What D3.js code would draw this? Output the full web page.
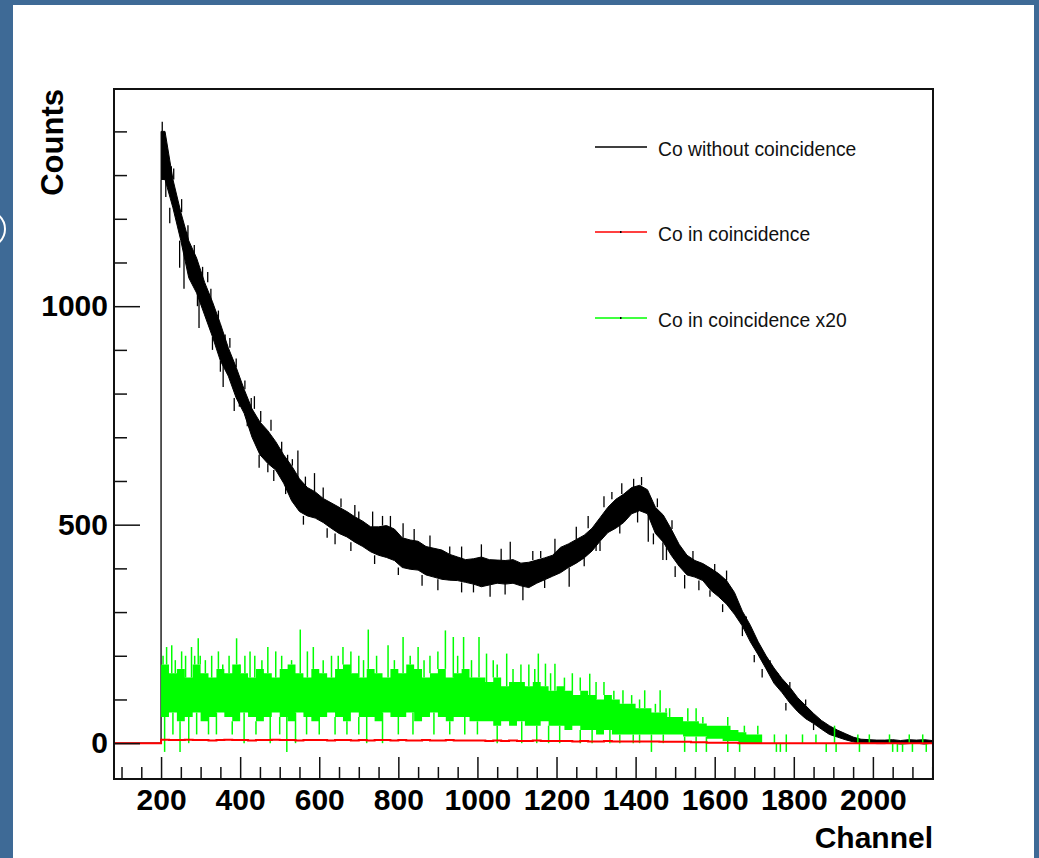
<!DOCTYPE html>
<html>
<head>
<meta charset="utf-8">
<script src="https://cdn.jsdelivr.net/npm/d3@7"></script>
<style>
  html, body { margin: 0; padding: 0; background: #3e6a96; }
  svg { display: block; }
  text { font-family: "Liberation Sans", Arial, Helvetica, sans-serif; }
</style>
</head>
<body>
<div id="drawing_region"></div>
<script>
// bin start channel (20 channels per bin)
const binStart = [
  200, 220, 240, 260, 280, 300, 320, 340, 360, 380,
  400, 420, 440, 460, 480, 500, 520, 540, 560, 580,
  600, 620, 640, 660, 680, 700, 720, 740, 760, 780,
  800, 820, 840, 860, 880, 900, 920, 940, 960, 980,
  1000, 1020, 1040, 1060, 1080, 1100, 1120, 1140, 1160, 1180,
  1200, 1220, 1240, 1260, 1280, 1300, 1320, 1340, 1360, 1380,
  1400, 1420, 1440, 1460, 1480, 1500, 1520, 1540, 1560, 1580,
  1600, 1620, 1640, 1660, 1680, 1700, 1720, 1740, 1760, 1780,
  1800, 1820, 1840, 1860, 1880, 1900, 1920, 1940, 1960, 1980,
  2000, 2020, 2040, 2060, 2080, 2100, 2120, 2140
];
const binWidth = 20;

// "Co without coincidence": upper / lower edge of the noisy trace in each bin
const blackHi = [
  1400, 1290, 1215, 1150, 1110, 1055, 1010, 960, 905, 860,
  810, 765, 735, 715, 690, 660, 635, 605, 585, 575,
  560, 550, 540, 530, 518, 508, 495, 495, 498, 490,
  470, 465, 462, 450, 446, 442, 432, 426, 420, 422,
  426, 420, 419, 418, 420, 412, 414, 419, 424, 430,
  448, 456, 466, 476, 492, 516, 540, 558, 570, 585,
  590, 580, 540, 522, 490, 455, 430, 418, 411, 400,
  388, 372, 345, 302, 270, 232, 200, 172, 148, 128,
  104, 86, 68, 52, 40, 30, 22, 14, 9, 8,
  7, 7, 8, 6, 8, 7, 8, 6
];
const blackLo = [
  1290, 1225, 1150, 1065, 1030, 980, 930, 875, 840, 790,
  755, 700, 660, 640, 625, 595, 555, 530, 520, 515,
  505, 492, 480, 472, 460, 450, 438, 430, 425, 418,
  402, 398, 396, 385, 380, 375, 373, 372, 368, 364,
  358, 362, 366, 364, 366, 360, 356, 366, 374, 382,
  390, 402, 412, 424, 440, 462, 482, 492, 505, 525,
  532, 525, 480, 460, 430, 405, 385, 380, 372, 350,
  335, 318, 295, 268, 232, 202, 170, 137, 116, 92,
  72, 56, 45, 32, 20, 14, 8, 3, 0, 0,
  -1, -1, 0, -2, -1, 0, -2, 0
];
// single channels sticking out of the band: [channel, counts]
const blackSpikes = [
  [203, 1422], [212, 1250], [222, 1190], [226, 1320], [232, 1315], [247, 1088],
  [252, 1245], [258, 1040], [265, 1170], [268, 1185], [284, 1140], [292, 1000],
  [296, 950], [305, 1090], [318, 1078], [326, 1040], [330, 900], [345, 990],
  [350, 850], [357, 815], [362, 935], [374, 927], [385, 760], [390, 880],
  [398, 770], [412, 830], [418, 725], [428, 790], [436, 794], [448, 630],
  [452, 760], [470, 620], [478, 740], [485, 600], [505, 690], [515, 570],
  [520, 660], [532, 650], [546, 670], [560, 500], [565, 610], [588, 618],
  [610, 585], [620, 470], [640, 455], [655, 560], [680, 440], [690, 545],
  [700, 530], [735, 530], [740, 410], [760, 520], [780, 520], [800, 385],
  [812, 503], [840, 490], [860, 360], [880, 475], [900, 350], [930, 450],
  [960, 450], [960, 345], [990, 345], [1010, 455], [1032, 335], [1060, 445],
  [1070, 340], [1083, 461], [1115, 327], [1140, 440], [1160, 440], [1170, 355],
  [1196, 468], [1232, 358], [1250, 495], [1270, 405], [1280, 520], [1300, 440],
  [1310, 440], [1320, 565], [1340, 575], [1360, 480], [1365, 595], [1395, 605],
  [1405, 505], [1415, 609], [1432, 461], [1445, 455], [1455, 560], [1469, 419],
  [1478, 419], [1492, 510], [1500, 380], [1524, 354], [1545, 440], [1560, 350],
  [1588, 335], [1600, 410], [1620, 300], [1630, 395], [1670, 245], [1680, 290],
  [1700, 185], [1720, 150], [1740, 190], [1760, 160], [1780, 75], [1790, 140],
  [1830, 100], [1850, 30]
];

// "Co in coincidence"
const redVal = [
  8, 7, 7, 8, 7, 7, 6, 7, 8, 7,
  7, 6, 7, 7, 8, 7, 7, 6, 7, 7,
  7, 6, 7, 7, 6, 7, 6, 7, 7, 6,
  7, 6, 6, 7, 6, 6, 7, 6, 6, 6,
  6, 5, 6, 5, 6, 5, 5, 6, 5, 5,
  5, 5, 4, 5, 4, 4, 5, 4, 4, 4,
  4, 4, 4, 3, 3, 3, 3, 2, 2, 1,
  1, 1, 1, 0, 0, 0, 0, 0, 0, 0,
  0, 0, 0, 0, 0, 0, 0, 0, 0, 0,
  0, 0, 0, 0, 0, 0, 0, 0
];

// "Co in coincidence x20": dense band per bin plus single spikes
const greenHi = [
  180, 160, 170, 150, 180, 160, 150, 170, 160, 180,
  160, 150, 170, 160, 150, 170, 180, 160, 150, 170,
  160, 150, 170, 180, 160, 150, 170, 160, 150, 170,
  160, 180, 170, 150, 160, 170, 150, 160, 170, 150,
  150, 140, 150, 130, 140, 140, 130, 140, 130, 120,
  130, 120, 110, 120, 110, 100, 110, 100, 90, 90,
  80, 80, 70, 70, 60, 60, 50, 50, 45, 40,
  40, 40, 30, 25, 20, 20, 0, 0, 0, 0,
  0, 0, 0, 0, 0, 0, 0, 0, 0, 0,
  0, 0, 0, 0, 0, 0, 0, 0
];
const greenLo = [
  60, 70, 50, 60, 70, 50, 60, 70, 60, 50,
  70, 60, 50, 60, 70, 60, 50, 70, 60, 50,
  60, 70, 60, 50, 70, 60, 60, 50, 70, 60,
  60, 70, 50, 60, 70, 60, 50, 60, 60, 50,
  50, 50, 40, 50, 40, 50, 40, 40, 50, 40,
  40, 30, 40, 30, 30, 20, 30, 20, 20, 20,
  20, 20, 20, 20, 20, 20, 15, 15, 15, 10,
  10, 5, 5, 0, 0, 0, 0, 0, 0, 0,
  0, 0, 0, 0, 0, 0, 0, 0, 0, 0,
  0, 0, 0, 0, 0, 0, 0, 0
];
const greenSpikes = [
  [205, 200], [214, 220], [227, 224], [236, 190], [252, 210], [262, 200],
  [277, 220], [285, 200], [294, 240], [299, 200], [312, 190], [328, 200],
  [345, 210], [356, 180], [372, 200], [391, 240], [400, 180], [412, 200],
  [425, 210], [437, 200], [455, 190], [470, 220], [490, 210], [505, 200],
  [530, 190], [552, 260], [570, 210], [585, 220], [610, 190], [631, 200],
  [648, 200], [660, 220], [680, 210], [700, 200], [712, 190], [724, 260],
  [745, 200], [774, 224], [790, 190], [812, 243], [830, 200], [850, 220],
  [865, 190], [880, 200], [900, 210], [919, 258], [939, 243], [950, 200],
  [965, 243], [985, 190], [1004, 243], [1023, 205], [1040, 190], [1050, 180],
  [1074, 205], [1090, 170], [1110, 180], [1130, 180], [1145, 170], [1154, 205],
  [1172, 182], [1185, 160], [1196, 182], [1220, 150], [1240, 160], [1260, 150],
  [1284, 159], [1300, 140], [1320, 140], [1345, 120], [1368, 121], [1390, 110],
  [1410, 100], [1423, 121], [1450, 90], [1462, 121], [1477, 80], [1486, 80],
  [1532, 80], [1553, 80], [1570, 60], [1633, 60], [1675, 40], [1709, 40],
  [1751, 20], [1781, 20], [1822, 20], [1856, 20], [1903, 40], [1962, 20],
  [1991, 20], [2042, 20], [2092, 20], [2126, 20],
  [209, -20], [230, 20], [248, -20], [270, 0], [290, 20], [320, 20],
  [340, 20], [380, 20], [410, 0], [440, 20], [476, 0], [500, 20],
  [518, -20], [540, 0], [568, 20], [600, 20], [640, 20], [670, 20],
  [700, 20], [720, 0], [760, 0], [800, 20], [837, 20], [890, 20],
  [930, 20], [968, 20], [1000, 20], [1050, 0], [1112, 0], [1150, 0],
  [1180, 0], [1208, 0], [1260, 0], [1290, 0], [1335, 0], [1360, 0],
  [1394, 0], [1410, 0], [1440, -20], [1470, 0], [1524, -20], [1553, -20],
  [1579, -20], [1633, -20], [1663, -20], [1756, -20], [1766, -20], [1781, -20],
  [1882, -20], [1907, -20], [1966, -20], [2050, -20], [2062, -20], [2075, -20],
  [2100, -20], [2135, -20]
];

const xMajorTicks = [200, 400, 600, 800, 1000, 1200, 1400, 1600, 1800, 2000];
const xMinorTicks = [
  100, 150, 250, 300, 350, 450, 500, 550, 650, 700, 750, 850, 900, 950,
  1050, 1100, 1150, 1250, 1300, 1350, 1450, 1500, 1550, 1650, 1700, 1750,
  1850, 1900, 1950, 2050, 2100, 2150
];
const yMajorTicks = [0, 500, 1000];
const yMinorTicks = [100, 200, 300, 400, 600, 700, 800, 900, 1100, 1200, 1300, 1400];

const legendLabels = ["Co without coincidence", "Co in coincidence", "Co in coincidence x20"];
const legendColors = ["#000000", "#ff0000", "#00ff00"];

class SpectrumChart {
    constructor(selector) {
        this.width = 1039;
        this.height = 858;
        this.frame = { left: 114, top: 89, right: 933, bottom: 779 };

        this.svg = d3.select(selector).append("svg")
            .attr("width", this.width)
            .attr("height", this.height);

        this.xscale = d3.scaleLinear().domain([81, 2152]).range([this.frame.left, this.frame.right]);
        this.yscale = d3.scaleLinear().domain([-82, 1497]).range([this.frame.bottom, this.frame.top]);

        this.bins = binStart.map((c, i) => ({
            ch: c, hi: blackHi[i], lo: blackLo[i], red: redVal[i], ghi: greenHi[i], glo: greenLo[i]
        }));
        // black band outline goes through bin centres, pinned at both ends
        const first = this.bins[0], last = this.bins[this.bins.length - 1];
        this.band = [Object.assign({}, first, { x: first.ch })]
            .concat(this.bins.map(d => Object.assign({}, d, { x: d.ch + binWidth / 2 })))
            .concat([Object.assign({}, last, { x: last.ch + binWidth })]);
        // histogram steps need a closing edge
        this.steps = this.bins.map(d => Object.assign({}, d, { x: d.ch }))
            .concat([Object.assign({}, last, { x: last.ch + binWidth })]);
    }

    drawPage() {
        this.svg.append("rect").attr("width", this.width).attr("height", this.height).attr("fill", "#3e6a96");
        this.svg.append("rect")
            .attr("x", 13).attr("y", 5)
            .attr("width", 1021).attr("height", this.height)
            .attr("fill", "#ffffff");
        this.svg.append("circle")
            .attr("cx", -13).attr("cy", 229).attr("r", 18)
            .attr("fill", "none").attr("stroke", "#ffffff").attr("stroke-width", 2);
    }

    drawData() {
        const xs = this.xscale, ys = this.yscale, f = this.frame;

        this.svg.append("clipPath").attr("id", "plot-clip")
            .append("rect")
            .attr("x", f.left).attr("y", f.top)
            .attr("width", f.right - f.left).attr("height", f.bottom - f.top);

        const plot = this.svg.append("g").attr("clip-path", "url(#plot-clip)");

        // black
        plot.append("path")
            .attr("d", d3.line()([[xs(81), ys(0)], [xs(binStart[0]), ys(0)], [xs(binStart[0]), ys(blackLo[0])]]))
            .attr("fill", "none").attr("stroke", "#000").attr("stroke-width", 1.3);

        const blackArea = d3.area()
            .x(d => xs(d.x)).y0(d => ys(d.lo)).y1(d => ys(d.hi));
        plot.append("path").datum(this.band)
            .attr("d", blackArea)
            .attr("fill", "#000").attr("stroke", "#000").attr("stroke-width", 1);
        this.drawSpikes(plot, blackSpikes, blackLo, blackHi, "#000", 1.3);

        // green x20
        const greenArea = d3.area()
            .x(d => xs(d.x)).y0(d => ys(d.glo)).y1(d => ys(d.ghi))
            .curve(d3.curveStepAfter);
        plot.append("path").datum(this.steps)
            .attr("d", greenArea)
            .attr("fill", "#00ff00");
        this.drawSpikes(plot, greenSpikes, greenLo, greenHi, "#00ff00", 1.5);

        // red
        const redPts = [{ x: 81, red: 0 }].concat(this.bins.map(d => ({ x: d.ch, red: d.red })))
            .concat([{ x: 2160, red: 0 }]);
        plot.append("path").datum(redPts)
            .attr("d", d3.line().x(d => xs(d.x)).y(d => ys(d.red)).curve(d3.curveStepAfter))
            .attr("fill", "none").attr("stroke", "#ff0000").attr("stroke-width", 2);
    }

    drawSpikes(g, spikes, lo, hi, color, width) {
        const xs = this.xscale, ys = this.yscale;
        const base = d => {
            const i = Math.max(0, d3.bisectRight(binStart, d[0]) - 1);
            return d[1] > hi[i] ? hi[i] : lo[i];
        };
        g.append("g").selectAll("line").data(spikes).join("line")
            .attr("x1", d => xs(d[0])).attr("x2", d => xs(d[0]))
            .attr("y1", d => ys(base(d))).attr("y2", d => ys(d[1]))
            .attr("stroke", color).attr("stroke-width", width);
    }

    drawAxes() {
        const f = this.frame;
        const styleAxis = g => {
            g.select(".domain").remove();
            g.selectAll(".tick line").attr("stroke", "#111").attr("stroke-width", 1.5);
            g.selectAll("text")
                .attr("fill", "#000")
                .attr("font-family", "'Liberation Sans', Arial, Helvetica, sans-serif")
                .attr("font-weight", "bold")
                .attr("font-size", 30);
        };

        this.svg.append("g").attr("transform", `translate(0, ${f.bottom})`)
            .call(d3.axisBottom(this.xscale).tickValues(xMinorTicks).tickSize(-12).tickFormat(""))
            .call(styleAxis);
        this.svg.append("g").attr("transform", `translate(0, ${f.bottom})`)
            .call(d3.axisBottom(this.xscale).tickValues(xMajorTicks).tickSize(-22).tickPadding(10).tickFormat(d3.format("d")))
            .call(styleAxis);

        this.svg.append("g").attr("transform", `translate(${f.left}, 0)`)
            .call(d3.axisLeft(this.yscale).tickValues(yMinorTicks).tickSize(-13).tickFormat(""))
            .call(styleAxis);
        this.svg.append("g").attr("transform", `translate(${f.left}, 0)`)
            .call(d3.axisLeft(this.yscale).tickValues(yMajorTicks).tickSize(-26).tickPadding(6).tickFormat(d3.format("d")))
            .call(styleAxis);

        this.svg.append("rect")
            .attr("x", f.left).attr("y", f.top)
            .attr("width", f.right - f.left).attr("height", f.bottom - f.top)
            .attr("fill", "none").attr("stroke", "#111").attr("stroke-width", 2);

        this.svg.append("text")
            .attr("x", f.right).attr("y", 848)
            .attr("text-anchor", "end")
            .attr("font-weight", "bold").attr("font-size", 30)
            .text("Channel");

        this.svg.append("text")
            .attr("transform", `translate(63, ${f.top}) rotate(-90)`)
            .attr("text-anchor", "end")
            .attr("font-weight", "bold").attr("font-size", 31)
            .text("Counts");
    }

    drawLegend() {
        const rows = [147, 232, 318];
        const lg = this.svg.append("g");
        const entry = lg.selectAll("g").data(legendLabels).join("g")
            .attr("transform", (d, i) => `translate(0, ${rows[i]})`);
        entry.append("line")
            .attr("x1", 595).attr("x2", 647)
            .attr("stroke", (d, i) => legendColors[i]).attr("stroke-width", 1.5);
        entry.filter((d, i) => i > 0).append("rect")
            .attr("x", 620).attr("y", -1).attr("width", 1.5).attr("height", 2).attr("fill", "#000");
        entry.append("text")
            .attr("x", 658).attr("y", 9)
            .attr("font-size", 19.3).attr("fill", "#111")
            .text(d => d);
    }

    render() {
        this.drawPage();
        this.drawData();
        this.drawAxes();
        this.drawLegend();
    }
}

const chart = new SpectrumChart("#drawing_region");
chart.render();
</script>
</body>
</html>
